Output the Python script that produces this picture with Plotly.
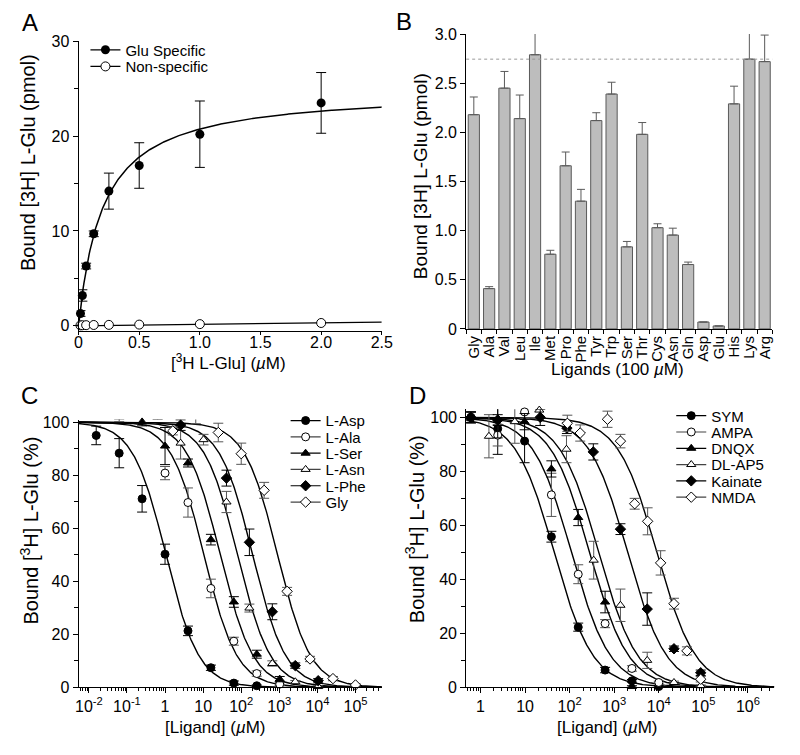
import numpy as np
import plotly.graph_objects as go

# ---------------- DATA ----------------
# Panel A: saturation binding
conc_A = [0.015625, 0.03125, 0.0625, 0.125, 0.25, 0.5, 1.0, 2.0]
glu_specific = [1.3, 3.2, 6.3, 9.7, 14.2, 16.9, 20.2, 23.5]
glu_specific_err = [0.3, 0.6, 0.3, 0.3, 1.9, 2.4, 3.5, 3.2]
non_specific = [0.05, 0.06, 0.07, 0.09, 0.1, 0.13, 0.18, 0.3]
non_specific_err = [0.02, 0.02, 0.02, 0.02, 0.03, 0.03, 0.04, 0.05]
fit_A_bmax = 24.9
fit_A_kd = 0.2
fit_A_ns_slope = 0.16
A_names = ["Glu Specific", "Non-specific"]

# Panel B: competition by amino acids (100 uM)
ligands = ["Gly", "Ala", "Val", "Leu", "Ile", "Met", "Pro", "Phe", "Tyr", "Trp",
           "Ser", "Thr", "Cys", "Asn", "Gln", "Asp", "Glu", "His", "Lys", "Arg"]
bound_B = [2.18, 0.41, 2.45, 2.14, 2.79, 0.76, 1.66, 1.30, 2.12, 2.39,
           0.835, 1.98, 1.03, 0.955, 0.655, 0.07, 0.03, 2.29, 2.745, 2.72]
bound_B_err = [0.18, 0.02, 0.17, 0.24, 0.24, 0.04, 0.14, 0.12, 0.08, 0.12,
               0.055, 0.12, 0.04, 0.07, 0.025, 0.0, 0.0, 0.18, 0.295, 0.27]
control_level_B = 2.745

# Panel C: displacement curves (amino acids)
C_names = ["L-Asp", "L-Ala", "L-Ser", "L-Asn", "L-Phe", "Gly"]
C_conc = [
    [0.0156, 0.0625, 0.25, 1, 4, 16, 64, 256],
    [0.0625, 0.25, 1, 4, 16, 64, 256, 1024],
    [0.0625, 0.25, 1, 4, 16, 64, 256, 1024],
    [2.56, 10.24, 41, 164, 655, 2621, 10486],
    [0.64, 2.56, 41, 164, 655, 2621, 10486],
    [1.6, 6.4, 25, 100, 400, 1600, 6400, 25600, 100000],
]
C_bound = [
    [95.0, 88.3, 71.1, 50.2, 21.3, 7.4, 1.6, 0.6],
    [102.2, 101.5, 80.8, 69.7, 37.3, 17.4, 5.2, 1.2],
    [104.2, 100.1, 91.0, 84.6, 55.7, 32.2, 12.5, 3.1],
    [92.1, 93.4, 69.9, 29.9, 9.0, 2.1, 0.3],
    [102.6, 98.9, 78.9, 54.7, 28.5, 8.2, 2.5],
    [96.7, 103.4, 96.1, 88.1, 74.3, 36.2, 10.7, 3.3, 0.9],
]
C_err = [
    [3.5, 5.5, 5.0, 3.8, 1.8, 1.0, 0.8, 0.3],
    [2.0, 2.0, 2.5, 5.5, 3.5, 1.5, 1.0, 0.5],
    [3.0, 1.5, 7.0, 1.5, 2.0, 2.0, 1.5, 1.0],
    [6.0, 2.0, 4.0, 1.5, 1.0, 0.5, 0.3],
    [1.5, 2.0, 3.0, 5.0, 3.0, 1.0, 0.8],
    [1.5, 4.0, 3.5, 4.0, 3.0, 1.5, 1.0, 0.8, 0.5],
]
C_ic50 = [1.05, 10.5, 28, 80, 200, 900]
C_hill = [1.0, 1.0, 1.0, 1.0, 1.0, 1.0]

# Panel D: displacement curves (glutamate receptor ligands)
D_names = ["SYM", "AMPA", "DNQX", "DL-AP5", "Kainate", "NMDA"]
D_conc = [
    [0.61, 2.44, 9.77, 39, 156, 625, 2500, 10000],
    [0.61, 2.44, 9.77, 39, 156, 625, 2500, 10000],
    [0.61, 2.44, 9.77, 39, 156, 625, 2500],
    [1.55, 5.9, 20.9, 85, 347, 1380, 5500, 21900, 87100],
    [0.61, 2.44, 21.9, 87, 340, 1380, 5500, 21900, 87100],
    [89, 173, 707, 1380, 2880, 5620, 11000, 21900, 42700, 87100],
]
D_bound = [
    [100.0, 95.8, 91.2, 55.8, 22.3, 6.4, 2.4, 0.3],
    [100.0, 93.4, 102.0, 71.3, 41.9, 23.6, 7.0, 1.8],
    [100.0, 99.4, 98.4, 80.9, 62.9, 31.6, 0.3],
    [93.0, 98.4, 102.7, 88.2, 47.1, 30.4, 10.0, 1.8, 0.6],
    [100.0, 99.0, 100.0, 96.0, 87.2, 58.6, 29.0, 14.3, 5.4],
    [97.8, 94.2, 99.3, 91.2, 68.0, 61.5, 46.1, 31.0, 13.5, 3.0],
]
D_err = [
    [2.0, 9.5, 8.0, 2.0, 1.5, 1.0, 0.5, 0.3],
    [2.0, 4.0, 2.5, 8.0, 3.5, 1.5, 1.0, 0.5],
    [2.0, 7.0, 3.0, 3.0, 3.0, 4.0, 0.3],
    [8.0, 8.0, 3.0, 5.0, 7.0, 6.0, 3.0, 0.5, 0.3],
    [2.0, 2.0, 3.0, 2.0, 3.0, 2.0, 6.0, 1.0, 1.0],
    [3.0, 3.0, 3.0, 2.5, 2.0, 5.0, 4.5, 2.0, 1.5, 1.0],
]
D_ic50 = [45, 110, 280, 450, 2000, 9000]
D_hill = [1.0, 1.0, 1.0, 1.0, 1.0, 1.0]

# ---------------- STYLE ----------------
FONT = "Liberation Sans, Arial, Helvetica, sans-serif"
W, H = 800, 755
symbols = ["circle", "circle-open", "triangle-up", "triangle-up-open", "diamond", "diamond-open"]


def px_x(p):
    return p / W


def px_y(p):
    return 1 - p / H


def marker_style(sym, size=8):
    if sym.endswith("-open"):
        return dict(symbol=sym.replace("-open", ""), color="white", size=size,
                    line=dict(color="black", width=1))
    return dict(symbol=sym, color="black", size=size, line=dict(color="black", width=1))


def err_color(sym):
    return "#555555" if sym.endswith("-open") else "black"


fig = go.Figure()
legend_layouts = {}
legend_count = [0]


def new_legend(text_x, row_y):
    legend_count[0] += 1
    n = legend_count[0]
    key = "legend" if n == 1 else "legend%d" % n
    legend_layouts[key] = dict(x=px_x(text_x - 50), y=px_y(row_y), xanchor="left",
                               yanchor="middle", bgcolor="rgba(0,0,0,0)",
                               font=dict(family=FONT, size=15, color="black"),
                               itemwidth=30, borderwidth=0)
    return key


# ---------------- PANEL A ----------------
xa = np.linspace(0.0, 2.5, 400)
fig.add_trace(go.Scatter(x=xa, y=fit_A_bmax * xa / (fit_A_kd + xa), mode="lines",
                         line=dict(color="black", width=1.5), showlegend=False,
                         xaxis="x", yaxis="y", hoverinfo="skip"))
fig.add_trace(go.Scatter(x=xa, y=fit_A_ns_slope * xa, mode="lines",
                         line=dict(color="black", width=1.2), showlegend=False,
                         xaxis="x", yaxis="y", hoverinfo="skip"))
fig.add_trace(go.Scatter(x=conc_A, y=non_specific, mode="markers",
                         marker=dict(symbol="circle", color="white", size=9,
                                     line=dict(color="black", width=1)),
                         error_y=dict(type="data", array=non_specific_err, color="black",
                                      thickness=1, width=4),
                         showlegend=False, cliponaxis=False, xaxis="x", yaxis="y"))
fig.add_trace(go.Scatter(x=conc_A, y=glu_specific, mode="markers",
                         marker=dict(symbol="circle", color="black", size=9),
                         error_y=dict(type="data", array=glu_specific_err, color="black",
                                      thickness=1, width=5),
                         showlegend=False, cliponaxis=False, xaxis="x", yaxis="y"))
A_rows = [43, 60]
for name, mk, ry in zip(A_names,
                        [dict(symbol="circle", color="black", size=9),
                         dict(symbol="circle", color="white", size=9,
                              line=dict(color="black", width=1))],
                        A_rows):
    fig.add_trace(go.Scatter(x=[None], y=[None], mode="lines+markers", name=name,
                             marker=mk, line=dict(color="black", width=1.2),
                             legend=new_legend(133, ry), xaxis="x", yaxis="y"))

# ---------------- PANEL B ----------------
fig.add_trace(go.Bar(x=ligands, y=bound_B, xaxis="x2", yaxis="y2",
                     marker=dict(color="#bdbdbd", line=dict(color="#5a5a5a", width=1)),
                     error_y=dict(type="data", array=bound_B_err, symmetric=False,
                                  arrayminus=[0] * len(bound_B_err), color="#5a5a5a",
                                  thickness=1, width=4),
                     showlegend=False))


# ---------------- PANELS C & D ----------------
def add_curves(names, concs, bounds, errs, ic50s, hills, xref, yref, xr, text_x, rows):
    xs = np.logspace(xr[0], xr[1], 400)
    for ic, h in zip(ic50s, hills):
        fig.add_trace(go.Scatter(x=xs, y=100 / (1 + (xs / ic) ** h), mode="lines",
                                 line=dict(color="black", width=1.4), showlegend=False,
                                 xaxis=xref, yaxis=yref, hoverinfo="skip"))
    for nm, c, b, e, sym in zip(names, concs, bounds, errs, symbols):
        fig.add_trace(go.Scatter(x=c, y=b, mode="markers", marker=marker_style(sym),
                                 error_y=dict(type="data", array=e, color=err_color(sym),
                                              thickness=1, width=5),
                                 showlegend=False, cliponaxis=False,
                                 xaxis=xref, yaxis=yref))
    for nm, sym, ry in zip(names, symbols, rows):
        fig.add_trace(go.Scatter(x=[None], y=[None], mode="lines+markers", name=nm,
                                 marker=marker_style(sym),
                                 line=dict(color="#444444" if sym.endswith("-open") else "black",
                                           width=1.2),
                                 legend=new_legend(text_x, ry), xaxis=xref, yaxis=yref))


C_range = [-2.27, 5.69]
D_range = [-0.32, 6.59]
C_rows = [422.3, 439.0, 455.7, 472.3, 489.0, 505.7]
D_rows = [417.3, 434.0, 450.7, 467.3, 484.0, 500.7]
add_curves(C_names, C_conc, C_bound, C_err, C_ic50, C_hill, "x3", "y3", C_range, 337, C_rows)
add_curves(D_names, D_conc, D_bound, D_err, D_ic50, D_hill, "x4", "y4", D_range, 730, D_rows)

# ---------------- AXES ----------------
axis_common = dict(showline=True, linecolor="black", linewidth=1, ticks="outside",
                   ticklen=5, tickwidth=1, tickcolor="black", showgrid=False,
                   zeroline=False, tickfont=dict(family=FONT, size=16, color="black"))


def log_minor(r):
    vals = []
    for k in range(int(np.floor(r[0])), int(np.ceil(r[1])) + 1):
        for m in range(2, 10):
            v = m * 10 ** k
            if 10 ** r[0] <= v <= 10 ** r[1]:
                vals.append(v)
    return vals


def sup(k):
    if k == 0:
        return "1"
    if k == 1:
        return "10"
    return "10<sup>%d</sup>" % k


C_dec = list(range(-2, 6))
D_dec = list(range(0, 7))

fig.update_layout(
    width=W, height=H, autosize=False, margin=dict(l=0, r=0, t=0, b=0),
    paper_bgcolor="white", plot_bgcolor="white",
    font=dict(family=FONT, size=16, color="black"),
    xaxis=dict(axis_common, domain=[px_x(76), px_x(385)], range=[0, 2.5],
               tickvals=[0, 0.5, 1.0, 1.5, 2.0, 2.5], ticklen=3, ticklabelstandoff=-6,
               ticktext=["0", "0.5", "1.0", "1.5", "2.0", "2.5"], anchor="y"),
    yaxis=dict(axis_common, domain=[px_y(330), px_y(34)], range=[-0.5, 30],
               tickvals=[0, 10, 20, 30],
               minor=dict(tickvals=[5, 15, 25], ticks="outside", ticklen=4,
                          tickcolor="black"),
               anchor="x"),
    xaxis2=dict(axis_common, domain=[px_x(471), px_x(783)], type="category",
                range=[-0.5, 19.5], tickson="boundaries", tickangle=-90, ticklen=4,
                tickmode="array", tickvals=ligands, ticktext=ligands,
                tickfont=dict(family=FONT, size=15, color="black"), anchor="y2"),
    yaxis2=dict(axis_common, domain=[px_y(328.3), px_y(26.7)], range=[0, 3.0],
                tickvals=[0, 0.5, 1.0, 1.5, 2.0, 2.5, 3.0],
                ticktext=["0", "0.5", "1.0", "1.5", "2.0", "2.5", "3.0"], anchor="x2"),
    xaxis3=dict(axis_common, domain=[px_x(76), px_x(385)], type="log", range=C_range,
                tickvals=[10.0 ** k for k in C_dec], ticktext=[sup(k) for k in C_dec],
                ticklabelstandoff=-1,
                minor=dict(tickvals=log_minor(C_range), ticks="outside", ticklen=3,
                           tickcolor="black"),
                anchor="y3"),
    yaxis3=dict(axis_common, domain=[px_y(695), px_y(421)], range=[0, 101],
                tickvals=[0, 20, 40, 60, 80, 100],
                minor=dict(tickvals=[10, 30, 50, 70, 90], ticks="outside", ticklen=4,
                           tickcolor="black"),
                anchor="x3"),
    xaxis4=dict(axis_common, domain=[px_x(471), px_x(785)], type="log", range=D_range,
                tickvals=[10.0 ** k for k in D_dec], ticktext=[sup(k) for k in D_dec],
                ticklabelstandoff=-1,
                minor=dict(tickvals=log_minor(D_range), ticks="outside", ticklen=3,
                           tickcolor="black"),
                anchor="y4"),
    yaxis4=dict(axis_common, domain=[px_y(695), px_y(410.5)], range=[0, 103],
                tickvals=[0, 20, 40, 60, 80, 100],
                minor=dict(tickvals=[10, 30, 50, 70, 90], ticks="outside", ticklen=4,
                           tickcolor="black"),
                anchor="x4"),
    bargap=0.27,
    **legend_layouts,
)

# control reference line in panel B
fig.add_shape(type="line", xref="x2 domain", yref="y2", x0=0, x1=1,
              y0=control_level_B, y1=control_level_B,
              line=dict(color="#9a9a9a", width=1, dash="dot"))

# ---------------- TEXT: axis titles and panel letters ----------------
ann = []


def add_text(text, x, y, size, angle=0):
    ann.append(dict(text=text, x=px_x(x), y=px_y(y), xref="paper", yref="paper",
                    showarrow=False, textangle=angle, xanchor="center", yanchor="middle",
                    font=dict(family=FONT, size=size, color="black")))


add_text("A", 27, 15, 24)
add_text("B", 408, 14, 24)
add_text("C", 26, 396, 24)
add_text("D", 421, 396, 24)

add_text("Bound [3H] L-Glu (pmol)", 25, 158, 20, -90)
add_text("[<sup>3</sup>H L-Glu] (<i>µ</i>M)", 229, 362, 17)
add_text("Bound [3H] L-Glu (pmol)", 424, 172, 19, -90)
add_text("Ligands (100 <i>µ</i>M)", 625, 370, 17)
add_text("Bound [<sup>3</sup>H] L-Glu (%)", 26, 535, 20, -90)
add_text("[Ligand] (<i>µ</i>M)", 216, 736, 17)
add_text("Bound [<sup>3</sup>H] L-Glu (%)", 419, 533, 20, -90)
add_text("[Ligand] (<i>µ</i>M)", 615, 736, 17)

fig.update_layout(annotations=ann)

fig.write_html(
    "out.html",
    config={"displayModeBar": False, "responsive": False},
    post_script="document.body.style.margin='0px';document.body.style.padding='0px';"
                "document.documentElement.style.overflow='hidden';",
)
